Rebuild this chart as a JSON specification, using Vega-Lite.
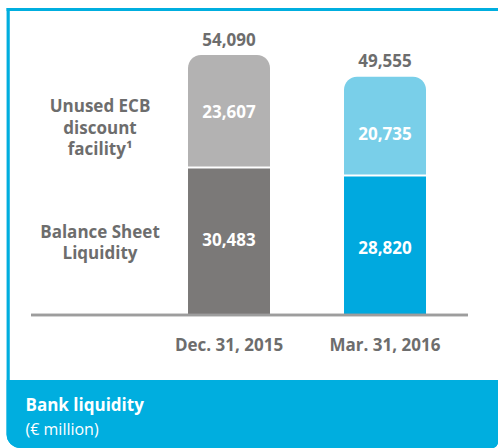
{
  "$schema": "https://vega.github.io/schema/vega-lite/v6.json",
  "width": 498,
  "height": 448,
  "autosize": {"type": "fit", "contains": "padding"},
  "padding": {"left": 6.5, "top": 8, "right": 0, "bottom": 0},
  "background": "white",
  "config": {
    "view": {"stroke": null, "fill": "white"},
    "font": "Open Sans",
    "text": {"font": "Open Sans"}
  },
  "title": {
    "text": "Bank liquidity",
    "subtitle": "(€ million)",
    "orient": "bottom",
    "anchor": "start",
    "frame": "group",
    "offset": -50,
    "dx": 19,
    "font": "Open Sans",
    "fontSize": 17,
    "fontWeight": "bold",
    "color": "white",
    "subtitleFont": "Open Sans",
    "subtitleFontSize": 16,
    "subtitleFontWeight": "normal",
    "subtitleColor": "white",
    "subtitlePadding": 7
  },
  "data": {
    "values": [
      {"date": "Dec. 31, 2015", "bsl": 30483, "ecb": 23607, "total": 54090},
      {"date": "Mar. 31, 2016", "bsl": 28820, "ecb": 20735, "total": 49555}
    ]
  },
  "encoding": {
    "x": {
      "field": "date",
      "type": "nominal",
      "sort": null,
      "axis": null,
      "scale": {
        "domain": ["Dec. 31, 2015", "Mar. 31, 2016"],
        "paddingInner": 0.4744,
        "paddingOuter": 0.8125,
        "align": 0.716,
        "round": false
      }
    }
  },
  "layer": [
    {
      "mark": {"type": "rect", "color": "#00aedf", "cornerRadiusBottomLeft": 14, "cornerRadiusBottomRight": 6, "clip": true},
      "encoding": {
        "x": null,
        "y": {"datum": -13523, "type": "quantitative", "axis": null, "scale": {"domain": [-27669, 63868], "nice": false, "zero": false}},
        "y2": {"datum": -27669}
      }
    },
    {
      "mark": {"type": "rule", "color": "#00aedf", "strokeWidth": 3, "clip": true},
      "encoding": {
        "x": null,
        "y": {"datum": 63556, "type": "quantitative"}
      }
    },
    {
      "mark": {"type": "rule", "color": "#00aedf", "strokeWidth": 3, "strokeCap": "square", "clip": true},
      "encoding": {
        "x": {"datum": "Dec. 31, 2015", "bandPosition": -2.1951},
        "y": {"datum": 63556, "type": "quantitative"},
        "y2": {"datum": -24756}
      }
    },
    {
      "mark": {"type": "bar", "cornerRadius": 0},
      "encoding": {
        "y": {"field": "bsl", "type": "quantitative"},
        "y2": {"datum": 0},
        "color": {"condition": {"test": "datum.date === 'Dec. 31, 2015'", "value": "#7b7978"}, "value": "#00a9df"}
      }
    },
    {
      "mark": {"type": "bar", "cornerRadiusTopLeft": 13, "cornerRadiusTopRight": 13, "y2Offset": -2},
      "encoding": {
        "y": {"field": "total", "type": "quantitative"},
        "y2": {"field": "bsl"},
        "color": {"condition": {"test": "datum.date === 'Dec. 31, 2015'", "value": "#b3b2b2"}, "value": "#79cfe9"}
      }
    },
    {
      "mark": {"type": "rule", "color": "#9d9d9d", "strokeWidth": 2.5},
      "encoding": {
        "x": {"datum": "Dec. 31, 2015", "bandPosition": -1.9146},
        "x2": {"datum": "Mar. 31, 2016", "bandPosition": 1.512},
        "y": {"datum": 0, "type": "quantitative"}
      }
    },
    {
      "mark": {"type": "text", "fontWeight": "bold", "fontSize": 17, "color": "#6d6d6d", "dy": -14.5, "baseline": "middle"},
      "encoding": {
        "y": {"field": "total", "type": "quantitative"},
        "text": {"field": "total", "type": "quantitative", "format": ",d"}
      }
    },
    {
      "mark": {"type": "text", "fontWeight": "bold", "fontSize": 17, "color": "white", "dy": 58, "baseline": "middle"},
      "encoding": {
        "y": {"field": "total", "type": "quantitative"},
        "text": {"field": "ecb", "type": "quantitative", "format": ",d"}
      }
    },
    {
      "mark": {"type": "text", "fontWeight": "bold", "fontSize": 17, "color": "white", "dy": 73, "baseline": "middle"},
      "encoding": {
        "y": {"field": "bsl", "type": "quantitative"},
        "text": {"field": "bsl", "type": "quantitative", "format": ",d"}
      }
    },
    {
      "mark": {"type": "text", "fontWeight": "bold", "fontSize": 17, "color": "#6d6d6d", "dy": 31, "baseline": "middle"},
      "encoding": {
        "y": {"datum": 0, "type": "quantitative"},
        "text": {"field": "date", "type": "nominal"}
      }
    },
    {
      "transform": [{"filter": "datum.date === 'Dec. 31, 2015'"}],
      "mark": {"type": "text", "fontWeight": "bold", "fontSize": 17, "color": "#6d6d6d", "dx": -129, "dy": 52, "baseline": "middle", "lineHeight": 21.5, "text": ["Unused ECB", "discount", "facility¹"]},
      "encoding": {
        "y": {"field": "total", "type": "quantitative"}
      }
    },
    {
      "transform": [{"filter": "datum.date === 'Dec. 31, 2015'"}],
      "mark": {"type": "text", "fontWeight": "bold", "fontSize": 17, "color": "#6d6d6d", "dx": -129, "dy": 64.5, "baseline": "middle", "lineHeight": 21.5, "text": ["Balance Sheet", "Liquidity"]},
      "encoding": {
        "y": {"field": "bsl", "type": "quantitative"}
      }
    }
  ]
}
